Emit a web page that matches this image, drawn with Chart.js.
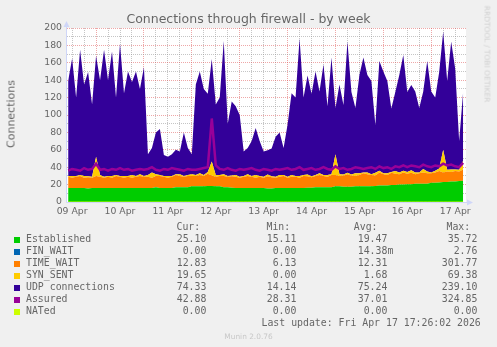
<!DOCTYPE html>
<html>
<head>
<meta charset="utf-8">
<script src="https://cdn.jsdelivr.net/npm/chart.js@4/dist/chart.umd.min.js"></script>
<style>
  body { margin: 0; background: #f0f0f0; }
  #wrap { position: relative; width: 497px; height: 347px; overflow: hidden; background: #f0f0f0; }
  #wrap canvas { position: absolute; left: 0; top: 0; }
  .t { position: absolute; color: #666; font-family: 'DejaVu Sans', sans-serif; white-space: pre; }
  .m { position: absolute; color: #666; font-family: 'DejaVu Sans Mono', monospace; font-size: 9.85px; line-height: 12px; height: 12px; white-space: pre; }
  .sq { position: absolute; width: 6px; height: 6px; }
</style>
</head>
<body>
<div id="wrap">
  <canvas id="chart" width="497" height="347"></canvas>
  <div class="t" id="title" style="left:0; width:497px; top:11px; text-align:center; font-size:12.5px;">Connections through firewall - by week</div>
  <div class="t" style="left:11px; top:114px; font-size:11px; transform:translate(-50%,-50%) rotate(-90deg);">Connections</div>
  <div class="t" style="left:487px; top:54px; font-size:7.5px; color:#d0d0d0; transform:translate(-50%,-50%) rotate(90deg);">RRDTOOL / TOBI OETIKER</div>
  <div class="t" style="left:0; width:497px; top:332px; text-align:center; font-size:7.4px; color:#c8c8c8;">Munin 2.0.76</div>
  <div id="legend"></div>
</div>
<script>
// samples every 2 hours, counted in hours from 09 Apr 00:00
const sampleStart = 10;
const sampleStep = 2;
const dayLabels = ['09 Apr', '10 Apr', '11 Apr', '12 Apr', '13 Apr', '14 Apr', '15 Apr', '16 Apr', '17 Apr'];

const established = [
  16, 16, 16, 16, 16, 15.5, 16, 16, 16, 16,
  16, 16, 16, 16, 16, 16, 16, 16, 16, 16,
  16, 16, 17, 16, 16, 16, 16, 17, 17, 17,
  17, 18, 18, 18, 18, 18.5, 18.5, 18, 18, 17,
  17, 16.5, 16, 16, 16, 16, 16, 16, 16, 16,
  15.5, 15.5, 16, 16, 16, 16, 16, 16, 16, 16,
  16.5, 16.5, 17, 17, 17, 17, 17, 18, 18, 17.5,
  17.5, 17.5, 18, 18, 18, 18, 18, 18.5, 19, 19,
  19, 19.5, 19.5, 20, 20, 20.5, 20.5, 21, 21, 21,
  21, 22, 22, 22.5, 23, 23, 23.5, 23.5, 24, 24.5
];
const finWait = [
  0, 0, 0, 0, 0, 0, 0, 0, 0, 0,
  0, 0, 0, 0, 0, 0, 0, 0, 0, 0,
  0, 0, 0, 0, 0, 0, 0, 0, 0, 0,
  0, 0, 0, 0, 0, 0, 0, 0, 0, 0,
  0, 0, 0, 0, 0, 0, 0, 0, 0, 0,
  0, 0, 0, 0, 0, 0, 0, 0, 0, 0,
  0, 0, 0, 0, 0, 0, 0, 0, 0, 0,
  0, 0, 0, 0, 0, 0, 0, 0, 0, 0,
  0, 0, 0, 0, 0, 0, 0, 0, 0, 0,
  0, 0, 0, 0, 0, 0, 0, 0, 0, 0
];
const timeWait = [
  13, 12, 13, 14, 12, 13, 12, 14, 13, 12,
  13, 12, 14, 13, 12, 13, 12, 13, 14, 13,
  13, 12, 13, 14, 13, 12, 13, 14, 13, 12,
  13, 12, 12, 13, 12, 14, 12, 11, 12, 13,
  12, 13, 13, 12, 13, 14, 13, 12, 13, 12,
  14, 13, 12, 13, 14, 12, 13, 13, 12, 14,
  13, 12, 13, 14, 13, 12, 14, 13, 12, 13,
  14, 13, 12, 13, 15, 14, 13, 12, 15, 13,
  12, 14, 13, 12, 14, 12, 13, 11, 12, 13,
  12, 11, 12, 13, 11, 12, 11, 12, 11, 13
];
const synSent = [
  1, 2, 1, 1, 2, 1, 1, 22, 2, 1,
  1, 2, 1, 1, 2, 1, 3, 1, 2, 1,
  2, 6, 2, 1, 1, 2, 1, 1, 2, 1,
  1, 2, 1, 2, 1, 2, 16, 2, 1, 2,
  1, 1, 2, 1, 1, 2, 1, 3, 1, 1,
  2, 1, 1, 2, 1, 1, 2, 1, 2, 1,
  2, 1, 1, 2, 1, 2, 1, 24, 2, 1,
  2, 1, 3, 2, 1, 2, 1, 3, 2, 1,
  2, 1, 3, 2, 2, 2, 3, 2, 1, 4,
  2, 1, 2, 3, 26, 2, 3, 2, 2, 10
];
const udp = [
  109, 135, 90, 144, 105, 120, 83, 116, 109, 146,
  110, 143, 89, 152, 95, 120, 107, 120, 98, 125,
  24, 28, 48, 53, 24, 22, 25, 28, 26, 50,
  31, 23, 104, 117, 99, 90, 118, 81, 89, 153,
  60, 85, 79, 71, 28, 30, 40, 54, 40, 29,
  28, 32, 46, 49, 31, 60, 94, 90, 158, 89,
  114, 95, 119, 94, 127, 79, 134, 53, 103, 80,
  151, 95, 75, 113, 132, 112, 107, 55, 126, 117,
  106, 73, 91, 112, 133, 92, 98, 93, 74, 89,
  127, 93, 84, 111, 136, 102, 147, 116, 33, 79
];
const assured = [
  36, 38, 37, 36, 39, 37, 38, 44, 37, 38,
  36, 38, 37, 39, 37, 38, 36, 37, 38, 37,
  38, 40, 37, 36, 38, 37, 39, 38, 37, 36,
  38, 37, 37, 38, 39, 40, 96, 42, 38, 37,
  39, 37, 36, 38, 37, 38, 39, 37, 36, 38,
  37, 36, 38, 37, 38, 39, 37, 38, 40, 37,
  38, 39, 37, 38, 40, 38, 37, 41, 38, 39,
  37, 38, 40, 39, 38, 39, 40, 38, 41, 39,
  40, 38, 41, 40, 42, 40, 42, 41, 40, 43,
  41, 40, 42, 41, 44, 42, 43, 41, 40, 45
];
const nated = [
  0, 0, 0, 0, 0, 0, 0, 0, 0, 0,
  0, 0, 0, 0, 0, 0, 0, 0, 0, 0,
  0, 0, 0, 0, 0, 0, 0, 0, 0, 0,
  0, 0, 0, 0, 0, 0, 0, 0, 0, 0,
  0, 0, 0, 0, 0, 0, 0, 0, 0, 0,
  0, 0, 0, 0, 0, 0, 0, 0, 0, 0,
  0, 0, 0, 0, 0, 0, 0, 0, 0, 0,
  0, 0, 0, 0, 0, 0, 0, 0, 0, 0,
  0, 0, 0, 0, 0, 0, 0, 0, 0, 0,
  0, 0, 0, 0, 0, 0, 0, 0, 0, 0
];

// legend table
const seriesNames = ['Established', 'FIN_WAIT', 'TIME_WAIT', 'SYN_SENT', 'UDP connections', 'Assured', 'NATed'];
const seriesColors = ['#00cc00', '#0066b3', '#ff8000', '#ffcc00', '#330099', '#990099', '#ccff00'];
const curValues = ['25.10 ', ' 0.00 ', '12.83 ', '19.65 ', '74.33 ', '42.88 ', ' 0.00 '];
const minValues = ['15.11 ', ' 0.00 ', ' 6.13 ', ' 0.00 ', '14.14 ', '28.31 ', ' 0.00 '];
const avgValues = ['19.47 ', '14.38m', '12.31 ', ' 1.68 ', '75.24 ', '37.01 ', ' 0.00 '];
const maxValues = ['35.72 ', ' 2.76 ', '301.77 ', '69.38 ', '239.10 ', '324.85 ', ' 0.00 '];
const lastUpdate = 'Last update: Fri Apr 17 17:26:02 2026';

const hours = [];
for (let i = 0; i < udp.length; i++) hours.push(sampleStart + i * sampleStep);

const GRID = 'rgba(150,150,150,0.55)';
const MGRID = 'rgba(222,79,79,0.5)';
const AXIS = '#cfd6f8';

// legend in html
const legend = document.getElementById('legend');
function addText(cls, left, top, text, right) {
    const d = document.createElement('div');
    d.className = cls;
    d.textContent = text;
    d.style.top = top + 'px';
    if (right) {
        d.style.right = (497 - left) + 'px';
    } else {
        d.style.left = left + 'px';
    }
    legend.appendChild(d);
}
addText('m', 176.5, 221, 'Cur:');
addText('m', 266.5, 221, 'Min:');
addText('m', 353.8, 221, 'Avg:');
addText('m', 446.5, 221, 'Max:');
seriesNames.forEach((name, i) => {
    const top = 233 + i * 12;
    const sq = document.createElement('div');
    sq.className = 'sq';
    sq.style.left = '14px';
    sq.style.top = (top + 4) + 'px';
    sq.style.background = seriesColors[i];
    legend.appendChild(sq);
    addText('m', 26, top, name);
    addText('m', 212.3, top, curValues[i], true);
    addText('m', 302.3, top, minValues[i], true);
    addText('m', 393.3, top, avgValues[i], true);
    addText('m', 483.3, top, maxValues[i], true);
});
addText('m', 261.5, 317, lastUpdate);

// white canvas area and the arrow axes
const muninPlugin = {
    id: 'munin',
    beforeDraw(chart) {
        const a = chart.chartArea;
        const ctx = chart.ctx;
        ctx.save();
        ctx.fillStyle = '#ffffff';
        ctx.fillRect(a.left, a.top, a.right - a.left, a.bottom - a.top);
        ctx.restore();
    },
    afterDraw(chart) {
        const a = chart.chartArea;
        const ctx = chart.ctx;
        ctx.save();
        ctx.strokeStyle = AXIS;
        ctx.fillStyle = AXIS;
        ctx.lineWidth = 1;
        ctx.beginPath();
        ctx.moveTo(a.left - 0.5, a.bottom + 0.5);
        ctx.lineTo(a.left - 0.5, a.top - 4);
        ctx.moveTo(a.left - 0.5, a.bottom + 0.5);
        ctx.lineTo(a.right + 3, a.bottom + 0.5);
        ctx.stroke();
        ctx.beginPath();
        ctx.moveTo(a.left - 0.5, a.top - 7);
        ctx.lineTo(a.left - 3.5, a.top - 1);
        ctx.lineTo(a.left + 2.5, a.top - 1);
        ctx.closePath();
        ctx.fill();
        ctx.beginPath();
        ctx.moveTo(a.right + 7, a.bottom + 0.5);
        ctx.lineTo(a.right + 1, a.bottom - 2.5);
        ctx.lineTo(a.right + 1, a.bottom + 3.5);
        ctx.closePath();
        ctx.fill();
        ctx.restore();
    }
};

function area(label, data, color, fill) {
    return {
        label: label,
        data: data,
        backgroundColor: color,
        borderColor: 'rgba(0,0,0,0)',
        borderWidth: 0,
        pointRadius: 0,
        fill: fill,
        order: 2
    };
}

const tickFont = { family: 'DejaVu Sans', size: 9.3 };

new Chart(document.getElementById('chart'), {
    type: 'line',
    data: {
        labels: hours,
        datasets: [
            area('Established', established, seriesColors[0], 'origin'),
            area('FIN_WAIT', finWait, seriesColors[1], '-1'),
            area('TIME_WAIT', timeWait, seriesColors[2], '-1'),
            area('SYN_SENT', synSent, seriesColors[3], '-1'),
            area('UDP connections', udp, seriesColors[4], '-1'),
            {
                label: 'Assured', data: assured, stack: 'assured',
                borderColor: seriesColors[5], borderWidth: 2.5, pointRadius: 0, fill: false, order: 1
            },
            {
                label: 'NATed', data: nated, stack: 'nated',
                borderColor: seriesColors[6], borderWidth: 1, pointRadius: 0, fill: false, order: 0
            }
        ]
    },
    options: {
        responsive: false,
        animation: false,
        devicePixelRatio: 1,
        layout: { padding: { left: 0, top: 28, right: 31, bottom: 0 } },
        plugins: { legend: { display: false }, tooltip: { enabled: false }, title: { display: false } },
        elements: { line: { tension: 0 } },
        scales: {
            x: {
                type: 'linear',
                min: 9.43,
                max: 209.43,
                z: 1,
                afterBuildTicks: function(scale) {
                    const ticks = [];
                    for (let h = 12; h <= 204; h += 6) ticks.push({ value: h });
                    scale.ticks = ticks;
                },
                afterFit: function(scale) { scale.height = 145; },
                grid: {
                    drawTicks: false,
                    color: ctx => (ctx.tick && ctx.tick.value % 24 === 0) ? MGRID : GRID
                },
                border: { display: false, dash: [1, 1] },
                ticks: {
                    autoSkip: false,
                    maxRotation: 0,
                    padding: 4,
                    color: '#666',
                    font: tickFont,
                    callback: function(v) {
                        if ((v - 12) % 24 === 0) return dayLabels[(v - 12) / 24];
                        return '';
                    }
                }
            },
            y: {
                stacked: true,
                min: 0,
                max: 200,
                z: 1,
                afterFit: function(scale) { scale.width = 67; },
                grid: {
                    drawTicks: false,
                    color: ctx => (ctx.tick && ctx.tick.value % 20 === 0) ? MGRID : GRID
                },
                border: { display: false, dash: [1, 1] },
                ticks: {
                    stepSize: 10,
                    autoSkip: false,
                    padding: 5,
                    color: '#666',
                    font: tickFont,
                    callback: v => (v % 20 === 0 ? String(v) : '')
                }
            }
        }
    },
    plugins: [muninPlugin]
});
</script>
</body>
</html>
